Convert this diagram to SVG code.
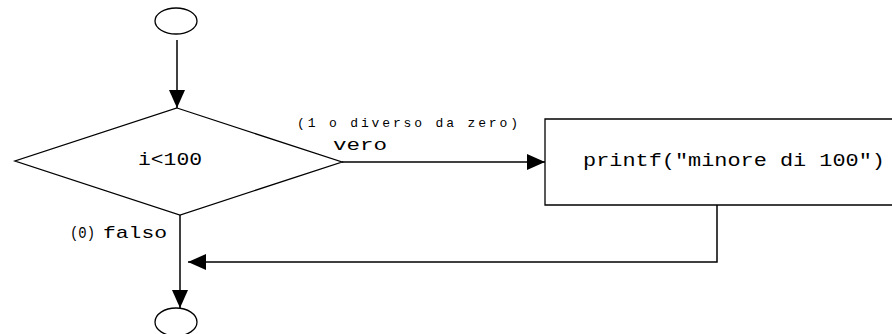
<svg xmlns="http://www.w3.org/2000/svg" width="892" height="334" viewBox="0 0 892 334">
<style>
.s{fill:none;stroke:#000;stroke-width:1.3}
.c{fill:none;stroke:#000;stroke-width:1.5}
.t{font-family:"Liberation Mono","DejaVu Sans Mono",monospace;fill:#000}
</style>
<defs>
<marker id="ah" markerUnits="userSpaceOnUse" markerWidth="18" markerHeight="16" refX="18" refY="8" orient="auto">
<path d="M0,0 L18,8 L0,16 Z" fill="#000"/>
</marker>
</defs>
<rect width="892" height="334" fill="#fff"/>
<g id="start"><ellipse class="s" cx="176" cy="21" rx="21" ry="13"/></g>
<g id="decision">
<polygon class="s" points="177,108 342,162 180,215 15,161"/>
<text class="t" x="138" y="165" font-size="18" textLength="64" lengthAdjust="spacingAndGlyphs">i&lt;100</text>
</g>
<g id="process">
<polyline class="s" points="900,119 545,119 545,205 900,205"/>
<text class="t" x="583" y="166" font-size="18" textLength="302" lengthAdjust="spacingAndGlyphs">printf("minore di 100")</text>
</g>
<g id="end"><ellipse class="s" cx="176" cy="322" rx="21" ry="14"/></g>
<g id="connectors">
<line class="c" x1="177" y1="40" x2="177" y2="108" marker-end="url(#ah)"/>
<line class="c" x1="342" y1="162" x2="545" y2="162" marker-end="url(#ah)"/>
<line class="c" x1="180" y1="215" x2="180" y2="308" marker-end="url(#ah)"/>
<polyline class="c" points="717,205 717,262 188,262" marker-end="url(#ah)"/>
</g>
<g id="labels">
<text class="t" x="297" y="127" font-size="13" textLength="221" lengthAdjust="spacing">(1 o diverso da zero)</text>
<text class="t" x="333" y="150" font-size="17" textLength="54" lengthAdjust="spacingAndGlyphs">vero</text>
<text class="t" x="70" y="238" font-size="16" textLength="25" lengthAdjust="spacingAndGlyphs">(0)</text>
<text class="t" x="103" y="238" font-size="17" textLength="64" lengthAdjust="spacingAndGlyphs">falso</text>
</g>
</svg>
